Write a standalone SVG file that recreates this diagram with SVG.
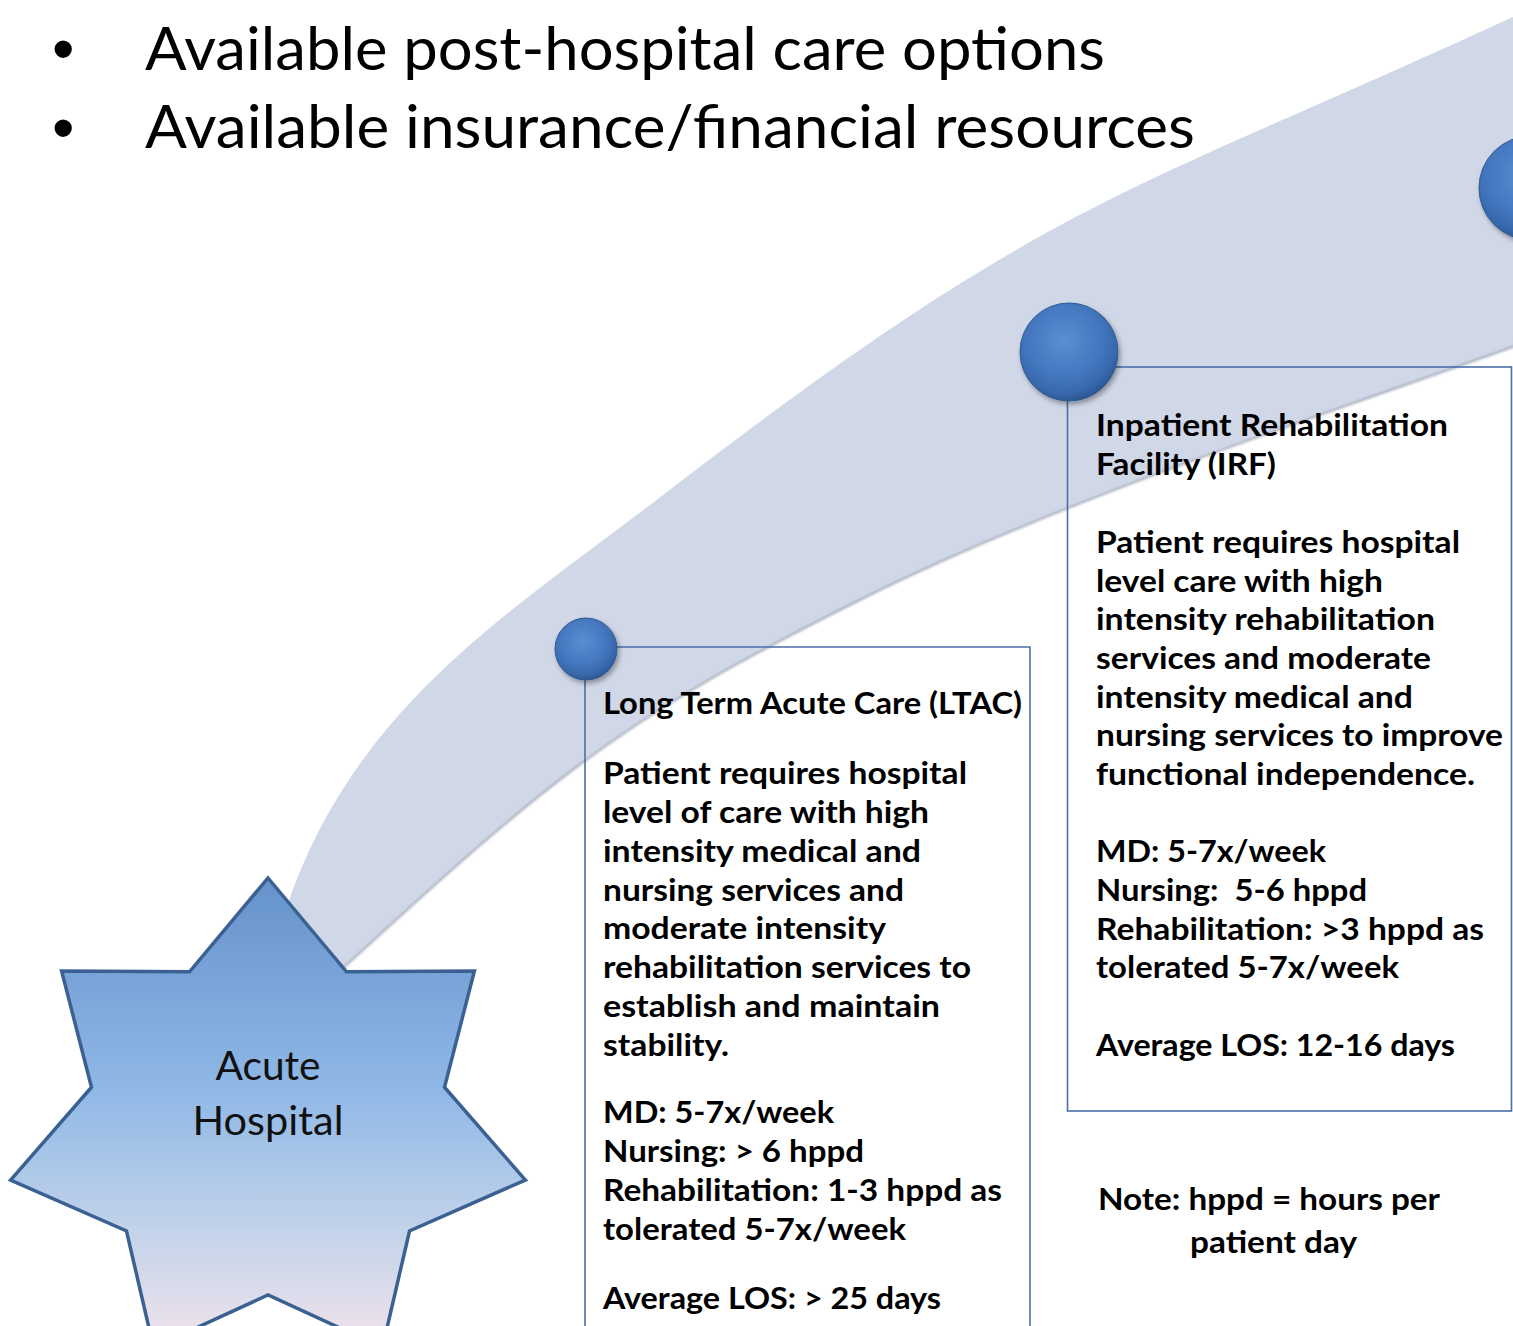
<svg xmlns="http://www.w3.org/2000/svg" width="1513" height="1326" viewBox="0 0 1513 1326">
  <defs>
    <linearGradient id="starFill" x1="0" y1="0" x2="0" y2="1">
      <stop offset="0" stop-color="#6692cc"/>
      <stop offset="0.45" stop-color="#8fb8e6"/>
      <stop offset="0.75" stop-color="#c2d3ea"/>
      <stop offset="1" stop-color="#f3e3ec"/>
    </linearGradient>
    <radialGradient id="ball" cx="45%" cy="38%" r="62%">
      <stop offset="0" stop-color="#5a8fd2"/>
      <stop offset="0.6" stop-color="#4477be"/>
      <stop offset="0.88" stop-color="#3767aa"/>
      <stop offset="1" stop-color="#2c5792"/>
    </radialGradient>
    <filter id="shadow" x="-30%" y="-30%" width="170%" height="170%">
      <feDropShadow dx="2" dy="3" stdDeviation="2.5" flood-color="#000" flood-opacity="0.35"/>
    </filter>
    <filter id="soft" x="-5%" y="-5%" width="110%" height="110%">
      <feGaussianBlur stdDeviation="1.2"/>
    </filter>
  </defs>
  <style>
    .head { font-family: Lato, "Liberation Sans", sans-serif; font-size: 60px; fill: #000; }
    .bullet { font-family: "Liberation Sans", sans-serif; font-size: 64px; fill: #000; }
    .body { font-family: Lato, "Liberation Sans", sans-serif; font-size: 30px; font-weight: bold; fill: #000; }
    .label { font-family: Lato, "Liberation Sans", sans-serif; font-size: 41px; fill: #111; }
    .box { fill: none; stroke: #4a6ea8; stroke-width: 1.6; }
    .ball { fill: url(#ball); stroke: #2f5a93; stroke-width: 1; filter: url(#shadow); }
  </style>

  <rect width="1513" height="1326" fill="#ffffff"/>

  <!-- heading bullets -->
  <g id="heading">
    <text class="bullet" x="52" y="71">•</text>
    <text class="head" x="145" y="70" textLength="960" lengthAdjust="spacingAndGlyphs">Available post-hospital care options</text>
    <text class="bullet" x="52" y="150">•</text>
    <text class="head" x="145" y="148" textLength="1050" lengthAdjust="spacingAndGlyphs">Available insurance/financial resources</text>
  </g>

  <!-- curved timeline band linking the care settings -->
  <g id="connectors">
    <path id="band" fill="#d0d7e7"
          d="M 262,985 L 286,909 C 352,710 507,614 650,505 C 1050,196 1113,201 1513,17 L 1530,9 L 1530,341 L 1513,347 C 1313,419 1060,500 860,600 C 610,725 550,778 300,1008 Z"/>
    <path fill="none" stroke="#9aa2b0" stroke-width="2" opacity="0.8" filter="url(#soft)"
          d="M 300,1008 C 550,778 610,725 860,600 C 1060,500 1313,419 1513,347 L 1530,341"/>
  </g>

  <!-- starting point: acute hospital -->
  <g id="acute-hospital">
    <polygon fill="url(#starFill)" stroke="#3b6193" stroke-width="3.5" stroke-linejoin="miter"
             points="268,878 346.5,971.8 474.4,971 444.5,1087.2 525.4,1180 409.5,1231 382.5,1347.5 268,1295 153.5,1347.5 126.5,1231 10.6,1180 91.5,1087.2 61.6,971 189.5,971.8"/>
    <text class="label" x="268" y="1080" text-anchor="middle" textLength="105" lengthAdjust="spacingAndGlyphs">Acute</text>
    <text class="label" x="268" y="1135" text-anchor="middle" textLength="151" lengthAdjust="spacingAndGlyphs">Hospital</text>
  </g>

  <!-- long term acute care -->
  <g id="ltac">
    <path class="box" d="M 585,647 L 1030,647 L 1030,1340 M 585,647 L 585,1340"/>
    <circle class="ball" cx="586" cy="649" r="31"/>
    <text class="body" x="603" y="714" textLength="419" lengthAdjust="spacingAndGlyphs">Long Term Acute Care (LTAC)</text>
    <text class="body" x="603" y="784" textLength="364" lengthAdjust="spacingAndGlyphs">Patient requires hospital</text>
    <text class="body" x="603" y="823" textLength="326" lengthAdjust="spacingAndGlyphs">level of care with high</text>
    <text class="body" x="603" y="861.5" textLength="318" lengthAdjust="spacingAndGlyphs">intensity medical and</text>
    <text class="body" x="603" y="900.5" textLength="301" lengthAdjust="spacingAndGlyphs">nursing services and</text>
    <text class="body" x="603" y="939" textLength="283" lengthAdjust="spacingAndGlyphs">moderate intensity</text>
    <text class="body" x="603" y="978" textLength="368" lengthAdjust="spacingAndGlyphs">rehabilitation services to</text>
    <text class="body" x="603" y="1016.5" textLength="337" lengthAdjust="spacingAndGlyphs">establish and maintain</text>
    <text class="body" x="603" y="1055.5" textLength="126" lengthAdjust="spacingAndGlyphs">stability.</text>
    <text class="body" x="603" y="1123" textLength="231" lengthAdjust="spacingAndGlyphs">MD: 5-7x/week</text>
    <text class="body" x="603" y="1162" textLength="261" lengthAdjust="spacingAndGlyphs">Nursing: &gt; 6 hppd</text>
    <text class="body" x="603" y="1201" textLength="399" lengthAdjust="spacingAndGlyphs">Rehabilitation: 1-3 hppd as</text>
    <text class="body" x="603" y="1240" textLength="303" lengthAdjust="spacingAndGlyphs">tolerated 5-7x/week</text>
    <text class="body" x="603" y="1309" textLength="338" lengthAdjust="spacingAndGlyphs">Average LOS: &gt; 25 days</text>
  </g>

  <!-- inpatient rehabilitation facility -->
  <g id="irf">
    <rect class="box" x="1067.5" y="367" width="444" height="744"/>
    <circle class="ball" cx="1069" cy="352" r="49"/>
    <text class="body" x="1096" y="436" textLength="352" lengthAdjust="spacingAndGlyphs">Inpatient Rehabilitation</text>
    <text class="body" x="1096" y="475" textLength="180" lengthAdjust="spacingAndGlyphs">Facility (IRF)</text>
    <text class="body" x="1096" y="553" textLength="364" lengthAdjust="spacingAndGlyphs">Patient requires hospital</text>
    <text class="body" x="1096" y="591.5" textLength="287" lengthAdjust="spacingAndGlyphs">level care with high</text>
    <text class="body" x="1096" y="630" textLength="339" lengthAdjust="spacingAndGlyphs">intensity rehabilitation</text>
    <text class="body" x="1096" y="669" textLength="335" lengthAdjust="spacingAndGlyphs">services and moderate</text>
    <text class="body" x="1096" y="707.5" textLength="317" lengthAdjust="spacingAndGlyphs">intensity medical and</text>
    <text class="body" x="1096" y="746" textLength="407" lengthAdjust="spacingAndGlyphs">nursing services to improve</text>
    <text class="body" x="1096" y="785" textLength="379" lengthAdjust="spacingAndGlyphs">functional independence.</text>
    <text class="body" x="1096" y="862" textLength="230" lengthAdjust="spacingAndGlyphs">MD: 5-7x/week</text>
    <text class="body" x="1096" y="901" textLength="271" lengthAdjust="spacingAndGlyphs" xml:space="preserve">Nursing:  5-6 hppd</text>
    <text class="body" x="1096" y="940" textLength="388" lengthAdjust="spacingAndGlyphs">Rehabilitation: &gt;3 hppd as</text>
    <text class="body" x="1096" y="978" textLength="303" lengthAdjust="spacingAndGlyphs">tolerated 5-7x/week</text>
    <text class="body" x="1096" y="1056" textLength="359" lengthAdjust="spacingAndGlyphs">Average LOS: 12-16 days</text>
  </g>

  <!-- next stage marker, running off the right edge -->
  <g id="next-stage">
    <circle class="ball" cx="1531" cy="188" r="52"/>
  </g>

  <!-- abbreviation note -->
  <g id="note">
    <text class="body" x="1098" y="1210" textLength="342" lengthAdjust="spacingAndGlyphs">Note: hppd = hours per</text>
    <text class="body" x="1190" y="1253" textLength="167" lengthAdjust="spacingAndGlyphs">patient day</text>
  </g>
</svg>
